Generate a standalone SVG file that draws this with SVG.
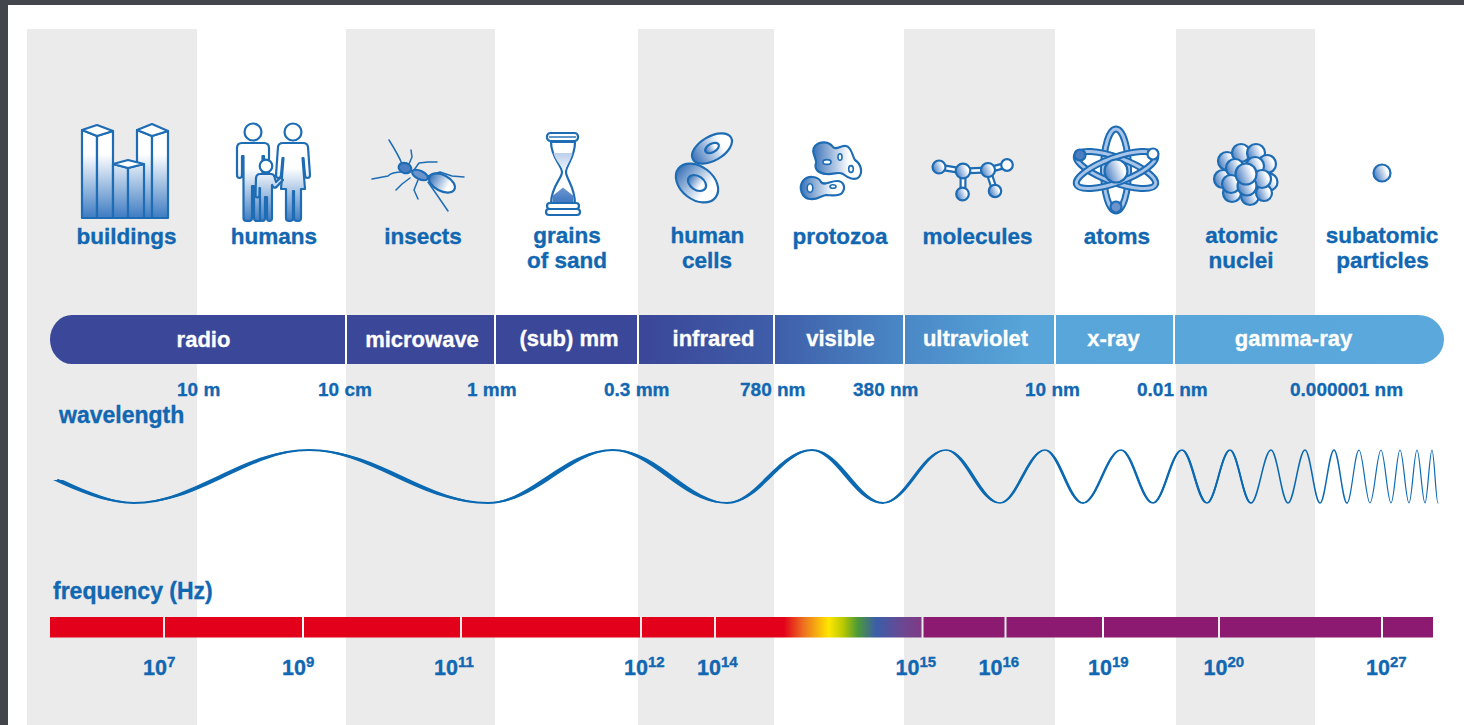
<svg xmlns="http://www.w3.org/2000/svg" width="1464" height="725" viewBox="0 0 1464 725">
  <defs>
    <style>
      .col{fill:#ebebeb}
      .lbl{font-family:"Liberation Sans",Arial,sans-serif;font-weight:bold;fill:#1167b1;stroke:#1167b1;stroke-width:0.35;font-size:22.5px;text-anchor:middle}
      .band{font-family:"Liberation Sans",Arial,sans-serif;font-weight:bold;fill:#fff;stroke:#fff;stroke-width:0.3;font-size:22px;text-anchor:middle}
      .wl{font-family:"Liberation Sans",Arial,sans-serif;font-weight:bold;fill:#1167b1;stroke:#1167b1;stroke-width:0.3;font-size:19px}
      .fq{font-family:"Liberation Sans",Arial,sans-serif;font-weight:bold;fill:#1167b1;stroke:#1167b1;stroke-width:0.35;font-size:21.5px}
      .ttl{font-family:"Liberation Sans",Arial,sans-serif;font-weight:bold;fill:#1167b1;stroke:#1167b1;stroke-width:0.35;font-size:23px}
      .ic{stroke:#1e6cb4;stroke-width:2.2;stroke-linejoin:round}
      .thin{fill:none;stroke:#1e6cb4;stroke-width:1.5;stroke-linecap:round;stroke-linejoin:round}
      .sep{stroke:#fff;stroke-width:2}
      .wave{fill:none;stroke:#0b69b2;stroke-linecap:round;stroke-linejoin:round}
      .nib{fill:#0b69b2}
      .red{fill:#e2001a}
      .pur{fill:#8b1a70}
      .bond{stroke:#1e6cb4;stroke-width:7;stroke-linecap:round}
      .bondIn{stroke:#fff;stroke-width:2.6;stroke-linecap:round}
    </style>
    <linearGradient id="bandGrad" gradientUnits="userSpaceOnUse" x1="50" y1="0" x2="1444" y2="0">
      <stop offset="0" stop-color="#3b4899"/>
      <stop offset="0.43" stop-color="#3b4899"/>
      <stop offset="0.52" stop-color="#3f5ea9"/>
      <stop offset="0.613" stop-color="#4a88c6"/>
      <stop offset="0.70" stop-color="#57a5d9"/>
      <stop offset="1" stop-color="#5aa8dc"/>
    </linearGradient>
    <linearGradient id="rainbow" gradientUnits="userSpaceOnUse" x1="716" y1="0" x2="921" y2="0">
      <stop offset="0" stop-color="#e2001a"/>
      <stop offset="0.33" stop-color="#e2001a"/>
      <stop offset="0.43" stop-color="#ee7420"/>
      <stop offset="0.55" stop-color="#ffe600"/>
      <stop offset="0.62" stop-color="#b9c900"/>
      <stop offset="0.69" stop-color="#4d9a36"/>
      <stop offset="0.78" stop-color="#3b5ea8"/>
      <stop offset="0.92" stop-color="#6f4590"/>
      <stop offset="1" stop-color="#7e3a84"/>
    </linearGradient>
    <linearGradient id="gBuild" gradientUnits="userSpaceOnUse" x1="0" y1="138" x2="0" y2="218">
      <stop offset="0" stop-color="#fff"/>
      <stop offset="0.2" stop-color="#fff"/>
      <stop offset="1" stop-color="#3d7bc2"/>
    </linearGradient>
    <linearGradient id="gHum" gradientUnits="userSpaceOnUse" x1="0" y1="150" x2="0" y2="222">
      <stop offset="0" stop-color="#fff"/>
      <stop offset="0.25" stop-color="#fff"/>
      <stop offset="1" stop-color="#3d7bc2"/>
    </linearGradient>
    <linearGradient id="gSide" x1="0" y1="0" x2="1" y2="0">
      <stop offset="0" stop-color="#3a72b9"/>
      <stop offset="0.75" stop-color="#fff"/>
    </linearGradient>
    <linearGradient id="gBall" x1="0" y1="0.7" x2="1" y2="0.3">
      <stop offset="0" stop-color="#4179c0"/>
      <stop offset="0.8" stop-color="#fff"/>
    </linearGradient>
    <linearGradient id="gSand" x1="0" y1="0" x2="0" y2="1">
      <stop offset="0" stop-color="#bccfeb"/>
      <stop offset="1" stop-color="#eef3fb"/>
    </linearGradient>
    <linearGradient id="gPile" x1="0" y1="0" x2="0" y2="1">
      <stop offset="0" stop-color="#6e97d0"/>
      <stop offset="1" stop-color="#3d76bf"/>
    </linearGradient>
  </defs>

  <!-- frame -->
  <rect x="0" y="0" width="1464" height="725" fill="#42454c"/>
  <rect x="8" y="5" width="1456" height="720" fill="#fff"/>

  <!-- alternating column shading -->
  <g id="columns">
    <rect class="col" x="27" y="29" width="170" height="696"/>
    <rect class="col" x="346" y="29" width="149" height="696"/>
    <rect class="col" x="638" y="29" width="136" height="696"/>
    <rect class="col" x="904" y="29" width="151" height="696"/>
    <rect class="col" x="1176" y="29" width="139" height="696"/>
  </g>

  <!-- size scale: icons and labels -->
  <g id="node-buildings">
    <g class="ic">
      <polygon points="82,130 97,136 97,218 82,218" fill="url(#gBuild)"/>
      <polygon points="97,136 113,131 113,218 97,218" fill="url(#gBuild)"/>
      <polygon points="82,130 97,125 113,131 97,136" fill="#fff"/>
      <polygon points="137,130 152,136 152,218 137,218" fill="url(#gBuild)"/>
      <polygon points="152,136 168,131 168,218 152,218" fill="url(#gBuild)"/>
      <polygon points="137,130 152,124 168,131 152,136" fill="#fff"/>
      <polygon points="113,164 128,168 128,218 113,218" fill="url(#gBuild)"/>
      <polygon points="128,168 144,164 144,218 128,218" fill="url(#gBuild)"/>
      <polygon points="113,164 128,160 144,164 128,168" fill="#fff"/>
    </g>
    <text class="lbl" x="126.5" y="244">buildings</text>
  </g>

  <g id="node-humans">
    <g class="ic" fill="url(#gHum)">
      <circle cx="253" cy="132" r="8.5" fill="#fff"/>
      <path d="M242,143 L264,143 Q269,143 269,148 L269,175 Q269,178 266.5,178 Q264,178 264,175 L264,156 L262.5,156 L262.5,218 Q262.5,221 259.5,221 L257,221 Q254,221 254,218 L254,186 L252,186 L252,218 Q252,221 249,221 L246.5,221 Q243.5,221 243.5,218 L243.5,156 L242,156 L242,175 Q242,178 239.5,178 Q237,178 237,175 L237,148 Q237,143 242,143 Z"/>
      <circle cx="293" cy="132" r="8.5" fill="#fff"/>
      <path d="M283,143 L303,143 Q307.5,143 308,147 L310,175 Q310,178 307.5,178 Q305,178 305,175 L303.5,158 L302.5,158 L305,189 L301,189 L301,218 Q301,221 298,221 L297,221 Q294,221 294,218 L294,191 L293,191 L293,218 Q293,221 290,221 L289,221 Q286,221 286,218 L286,189 L281,189 L283.5,158 L282.5,158 L281,175 Q281,178 278.5,178 Q276,178 276,175 L278,147 Q278.5,143 283,143 Z"/>
      <circle cx="266" cy="166" r="6.3" fill="#fff"/>
      <path d="M260,174 L271,174 Q274,174 274.5,177 L276,182 L280.5,177.5 L283,180 L276.5,187 Q273.5,189 272,185 L272,218 Q272,221 269.5,221 Q267,221 267,218 L267,197 L265,197 L265,218 Q265,221 262.5,221 Q260,221 260,218 L260,188 L259.5,188 L259.5,195 Q259.5,197.5 257.5,197.5 Q255.5,197.5 255.5,195 L256,178 Q256.5,174 260,174 Z"/>
    </g>
    <text class="lbl" x="274" y="244">humans</text>
  </g>

  <g id="node-insects">
    <g class="thin">
      <path d="M402,164 C399,156 394,148 389,140"/>
      <path d="M409,164 L412,157 L411,150"/>
      <path d="M402,172 Q392,172 388,176 L372,179"/>
      <path d="M414,170 L419,163 L428,162 L437,162"/>
      <path d="M428,176 L440,172 L452,176 L464,177"/>
      <path d="M410,178 L402,184 L396,190"/>
      <path d="M418,180 L414,190 L418,199"/>
      <path d="M428,182 L437,195 L448,211"/>
    </g>
    <g class="ic" stroke-width="1.6">
      <ellipse cx="442" cy="183" rx="14" ry="8" transform="rotate(28 442 183)" fill="url(#gSide)"/>
      <ellipse cx="420" cy="175" rx="8.5" ry="4.2" transform="rotate(25 420 175)" fill="#6b93cc"/>
      <ellipse cx="405" cy="168" rx="6.5" ry="5" transform="rotate(20 405 168)" fill="#4a7dc2"/>
    </g>
    <text class="lbl" x="423" y="244">insects</text>
  </g>

  <g id="node-sand">
    <g class="ic">
      <path d="M551,142 C551,158 562,165 562,172 C562,179 551,186 551,204 L575,204 C575,186 566,179 566,172 C566,165 575,158 575,142 Z" fill="#fff"/>
      <path d="M553.5,153 L572.5,153 C571,160 566,166 565,171 L563,171 C562,166 555,160 553.5,153 Z" fill="url(#gSand)" stroke="none"/>
      <path d="M552.5,203 L552.5,196 L563,187.5 L573.5,196 L573.5,203 Z" fill="url(#gPile)" stroke="none"/>
      <rect x="547" y="133" width="31" height="8" rx="3.5" fill="#fff"/>
      <line x1="549" y1="137" x2="576" y2="137" stroke-width="1.4"/>
      <rect x="547" y="203" width="32" height="6" rx="3" fill="#fff"/>
      <rect x="546" y="209" width="34" height="6" rx="3" fill="#fff"/>
    </g>
    <text class="lbl" x="567" y="243">grains</text>
    <text class="lbl" x="567" y="268">of sand</text>
  </g>

  <g id="node-cells">
    <g class="ic">
      <ellipse cx="712" cy="148.5" rx="22" ry="12" transform="rotate(-30 712 148.5)" fill="url(#gSide)"/>
      <ellipse cx="712" cy="148" rx="7.5" ry="4.3" transform="rotate(-28 712 148)" fill="url(#gSide)"/>
      <ellipse cx="697" cy="183" rx="23.5" ry="16.5" transform="rotate(38 697 183)" fill="url(#gSide)"/>
      <ellipse cx="697" cy="183" rx="10" ry="6.8" transform="rotate(35 697 183)" fill="url(#gSide)"/>
    </g>
    <text class="lbl" x="707.5" y="243">human</text>
    <text class="lbl" x="707" y="268">cells</text>
  </g>

  <g id="node-protozoa">
    <g class="ic">
      <path d="M815,146 C820,141 829,141 833,147 C837,151 840,145 846,146 C852,147 852,156 855,160 C861,164 863,172 859,177 C855,181 848,178 843,174 C838,171 834,175 826,174 C818,173 814,169 816,163 C817,158 810,152 815,146 Z" fill="url(#gSide)"/>
      <ellipse cx="827" cy="162" rx="4" ry="2.4" fill="#fff" stroke-width="1.6"/>
      <ellipse cx="840" cy="157" rx="2" ry="3.3" fill="#fff" stroke-width="1.6"/>
      <ellipse cx="851" cy="169" rx="2.3" ry="3.4" fill="#fff" stroke-width="1.6"/>
      <path d="M803,181 C808,175 818,176 821,182 C824,186 830,181 837,181 C844,181 846,188 842,193 C838,197 831,195 826,195 C820,196 818,200 810,199 C802,198 798,188 803,181 Z" fill="url(#gSide)"/>
      <ellipse cx="810" cy="188" rx="2.8" ry="4.3" fill="#fff" stroke-width="1.6"/>
      <ellipse cx="833" cy="186.5" rx="3" ry="1.8" fill="#fff" stroke-width="1.6"/>
    </g>
    <text class="lbl" x="840" y="244">protozoa</text>
  </g>

  <g id="node-molecules">
    <line class="bond" x1="939" y1="167" x2="963" y2="171"/>
    <line class="bond" x1="963" y1="171" x2="963" y2="194"/>
    <line class="bond" x1="963" y1="171" x2="988" y2="170"/>
    <line class="bond" x1="988" y1="170" x2="1007" y2="165"/>
    <line class="bond" x1="988" y1="170" x2="995" y2="191"/>
    <line class="bondIn" x1="939" y1="167" x2="963" y2="171"/>
    <line class="bondIn" x1="963" y1="171" x2="963" y2="194"/>
    <line class="bondIn" x1="963" y1="171" x2="988" y2="170"/>
    <line class="bondIn" x1="988" y1="170" x2="1007" y2="165"/>
    <line class="bondIn" x1="988" y1="170" x2="995" y2="191"/>
    <g class="ic" fill="url(#gBall)">
      <circle cx="939" cy="167" r="6.5"/>
      <circle cx="963" cy="171" r="7.3"/>
      <circle cx="962.5" cy="194" r="6.3"/>
      <circle cx="988" cy="170" r="7"/>
      <circle cx="1007" cy="165" r="5.8" fill="#fff"/>
      <circle cx="995" cy="191" r="6.2"/>
    </g>
    <text class="lbl" x="977.5" y="244">molecules</text>
  </g>

  <g id="node-atoms">
    <g fill="none">
      <ellipse cx="1116" cy="170" rx="12.5" ry="41" stroke="#1e6cb4" stroke-width="7"/>
      <ellipse cx="1116" cy="170" rx="12.5" ry="41" stroke="#a8c4e8" stroke-width="3"/>
      <ellipse cx="1116" cy="170" rx="42" ry="12.5" transform="rotate(20 1116 170)" stroke="#1e6cb4" stroke-width="7"/>
      <ellipse cx="1116" cy="170" rx="42" ry="12.5" transform="rotate(20 1116 170)" stroke="#a8c4e8" stroke-width="3"/>
      <ellipse cx="1116" cy="170" rx="42" ry="12.5" transform="rotate(-20 1116 170)" stroke="#1e6cb4" stroke-width="7"/>
      <ellipse cx="1116" cy="170" rx="42" ry="12.5" transform="rotate(-20 1116 170)" stroke="#a8c4e8" stroke-width="3"/>
    </g>
    <g class="ic" stroke-width="2">
      <circle cx="1116" cy="171" r="11.5" fill="url(#gBall)"/>
      <circle cx="1080" cy="155" r="5.5" fill="#4a7dc2"/>
      <circle cx="1153" cy="154" r="5.5" fill="#fff"/>
      <circle cx="1116" cy="207" r="5.5" fill="#6b93cc"/>
    </g>
    <text class="lbl" x="1117" y="244">atoms</text>
  </g>

  <g id="node-nuclei">
    <g class="ic" stroke-width="2" fill="url(#gBall)">
      <circle cx="1227" cy="161" r="9"/>
      <circle cx="1241" cy="153" r="9"/>
      <circle cx="1256" cy="153" r="9"/>
      <circle cx="1267" cy="164" r="9"/>
      <circle cx="1269" cy="182" r="8.5"/>
      <circle cx="1223" cy="179" r="9"/>
      <circle cx="1232" cy="193" r="9"/>
      <circle cx="1250" cy="196" r="9"/>
      <circle cx="1264" cy="193" r="8"/>
      <circle cx="1235" cy="168" r="9"/>
      <circle cx="1255" cy="166" r="9"/>
      <circle cx="1262" cy="179" r="9"/>
      <circle cx="1231" cy="184" r="9"/>
      <circle cx="1247" cy="186" r="9.5"/>
      <circle cx="1246" cy="174" r="10.5"/>
    </g>
    <text class="lbl" x="1241.5" y="243">atomic</text>
    <text class="lbl" x="1241" y="268">nuclei</text>
  </g>

  <g id="node-subatomic">
    <circle class="ic" cx="1382" cy="173" r="8.5" fill="url(#gBall)" stroke-width="2"/>
    <text class="lbl" x="1382" y="243">subatomic</text>
    <text class="lbl" x="1382.5" y="268">particles</text>
  </g>

  <!-- spectrum band bar -->
  <g id="bands">
    <path d="M72,315 H1418 A26,24.5 0 0 1 1418,364 H72 A22,24.5 0 0 1 72,315 Z" fill="url(#bandGrad)"/>
    <line class="sep" x1="346" y1="315" x2="346" y2="364"/>
    <line class="sep" x1="495" y1="315" x2="495" y2="364"/>
    <line class="sep" x1="638" y1="315" x2="638" y2="364"/>
    <line class="sep" x1="774" y1="315" x2="774" y2="364"/>
    <line class="sep" x1="904" y1="315" x2="904" y2="364"/>
    <line class="sep" x1="1055" y1="315" x2="1055" y2="364"/>
    <line class="sep" x1="1174" y1="315" x2="1174" y2="364"/>
    <text class="band" x="203.5" y="347">radio</text>
    <text class="band" x="422" y="347">microwave</text>
    <text class="band" x="569" y="346">(sub) mm</text>
    <text class="band" x="713.5" y="346">infrared</text>
    <text class="band" x="840.5" y="346">visible</text>
    <text class="band" x="975.5" y="346">ultraviolet</text>
    <text class="band" x="1113.5" y="346">x-ray</text>
    <text class="band" x="1293.5" y="346">gamma-ray</text>
  </g>

  <!-- wavelength scale -->
  <g id="wavelength">
    <text class="wl" x="177" y="396">10 m</text>
    <text class="wl" x="318" y="396">10 cm</text>
    <text class="wl" x="467" y="396">1 mm</text>
    <text class="wl" x="604" y="396">0.3 mm</text>
    <text class="wl" x="740" y="396">780 nm</text>
    <text class="wl" x="853" y="396">380 nm</text>
    <text class="wl" x="1025" y="396">10 nm</text>
    <text class="wl" x="1137" y="396">0.01 nm</text>
    <text class="wl" x="1290" y="396">0.000001 nm</text>
    <text class="ttl" x="59" y="423">wavelength</text>
  </g>

  <!-- chirped wave: thin spine plus horizontal-nib swell on each slope -->
  <g id="wave">
    <path class="wave" stroke-width="2" stroke-linecap="butt" d="M58,480 C84,492 110,503 134,503 C197.7,503 245.3,450 309,450 C374.2,450 422.8,503 488,503"/>
    <path class="wave" stroke-width="1.9" d="M488,503 C533.5,503 567.5,450 613,450 C654.5,450 685.5,503 727,503 C757.9,503 781.1,450 812,450 C837.8,450 857.2,503 883,503"/>
    <path class="wave" stroke-width="1.7" d="M883,503 C905.9,503 923.1,450 946,450 C965.7,450 980.3,503 1000,503 C1016.4,503 1028.6,450 1045,450 C1058.8,450 1069.2,503 1083,503"/>
    <path class="wave" stroke-width="1.6" d="M1083,503 C1096.8,503 1107.2,450 1121,450 C1132.6,450 1141.4,503 1153,503 C1163.6,503 1171.4,450 1182,450 C1191.1,450 1197.9,503 1207,503 C1215.4,503 1221.6,450 1230,450 C1237.6,450 1243.4,503 1251,503"/>
    <path class="wave" stroke-width="1.5" d="M1251,503 C1258.3,503 1263.7,450 1271,450 C1277.2,450 1281.8,503 1288,503 C1294.2,503 1298.8,450 1305,450 C1310.5,450 1314.5,503 1320,503 C1325.1,503 1328.9,450 1334,450 C1338.7,450 1342.3,503 1347,503"/>
    <path class="wave" stroke-width="1.2" d="M1347,503 C1351.4,503 1354.6,450 1359,450 C1363,450 1366,503 1370,503 C1374,503 1377,450 1381,450 C1384.6,450 1387.4,503 1391,503 C1394.3,503 1396.7,450 1400,450 C1403.3,450 1405.7,503 1409,503 C1411.9,503 1414.1,450 1417,450 C1419.9,450 1422.1,503 1425,503 C1427.5,503 1429.5,450 1432,450 C1434.2,450 1435.8,503 1438,503"/>
    <path class="nib" d="M53,480 C79,492 105,503 129,503 L139,503 C115,503 89,492 63,480 Z
      M129,503 C192.7,503 240.3,450 304,450 L314,450 C250.3,450 202.7,503 139,503 Z
      M304,450 C369.2,450 417.8,503 483,503 L493,503 C427.8,503 379.2,450 314,450 Z
      M484,503 C529.5,503 563.5,450 609,450 L617,450 C571.5,450 537.5,503 492,503 Z
      M609,450 C650.5,450 681.5,503 723,503 L731,503 C689.5,503 658.5,450 617,450 Z
      M724.2,503 C755.1,503 778.3,450 809.2,450 L814.8,450 C783.9,450 760.7,503 729.8,503 Z
      M809.2,450 C835,450 854.4,503 880.2,503 L885.8,503 C860,503 840.6,450 814.8,450 Z
      M881,503 C903.9,503 921.1,450 944,450 L948,450 C925.1,450 907.9,503 885,503 Z
      M944,450 C963.7,450 978.3,503 998,503 L1002,503 C982.3,503 967.7,450 948,450 Z
      M998.5,503 C1014.9,503 1027.1,450 1043.5,450 L1046.5,450 C1030.1,450 1017.9,503 1001.5,503 Z
      M1043.5,450 C1057.3,450 1067.7,503 1081.5,503 L1084.5,503 C1070.7,503 1060.3,450 1046.5,450 Z
      M1081.7,503 C1095.5,503 1105.9,450 1119.7,450 L1122.3,450 C1108.5,450 1098.1,503 1084.3,503 Z
      M1119.7,450 C1131.3,450 1140.1,503 1151.7,503 L1154.3,503 C1142.7,503 1133.9,450 1122.3,450 Z
      M1151.8,503 C1162.4,503 1170.2,450 1180.8,450 L1183.2,450 C1172.6,450 1164.8,503 1154.2,503 Z
      M1180.8,450 C1189.9,450 1196.7,503 1205.8,503 L1208.2,503 C1199.1,503 1192.3,450 1183.2,450 Z
      M1206,503 C1214.4,503 1220.6,450 1229,450 L1231,450 C1222.6,450 1216.4,503 1208,503 Z
      M1229,450 C1236.6,450 1242.4,503 1250,503 L1252,503 C1244.4,503 1238.6,450 1231,450 Z"/>
  </g>

  <!-- frequency scale -->
  <g id="frequency">
    <text class="ttl" x="53" y="599">frequency (Hz)</text>
    <rect class="red" x="50" y="617" width="113" height="20.5"/>
    <rect class="red" x="165" y="617" width="137" height="20.5"/>
    <rect class="red" x="304" y="617" width="156" height="20.5"/>
    <rect class="red" x="462" y="617" width="178" height="20.5"/>
    <rect class="red" x="642" y="617" width="72" height="20.5"/>
    <rect x="716" y="617" width="205.5" height="20.5" fill="url(#rainbow)"/>
    <rect class="pur" x="923.5" y="617" width="81" height="20.5"/>
    <rect class="pur" x="1006.5" y="617" width="95.5" height="20.5"/>
    <rect class="pur" x="1104" y="617" width="114" height="20.5"/>
    <rect class="pur" x="1220" y="617" width="161" height="20.5"/>
    <rect class="pur" x="1383" y="617" width="50" height="20.5"/>
    <text class="fq" x="143" y="675">10<tspan dy="-8" font-size="15">7</tspan></text>
    <text class="fq" x="282" y="675">10<tspan dy="-8" font-size="15">9</tspan></text>
    <text class="fq" x="434" y="675">10<tspan dy="-8" font-size="15">11</tspan></text>
    <text class="fq" x="624" y="675">10<tspan dy="-8" font-size="15">12</tspan></text>
    <text class="fq" x="697" y="675">10<tspan dy="-8" font-size="15">14</tspan></text>
    <text class="fq" x="895.5" y="675">10<tspan dy="-8" font-size="15">15</tspan></text>
    <text class="fq" x="978.5" y="675">10<tspan dy="-8" font-size="15">16</tspan></text>
    <text class="fq" x="1088" y="675">10<tspan dy="-8" font-size="15">19</tspan></text>
    <text class="fq" x="1203.5" y="675">10<tspan dy="-8" font-size="15">20</tspan></text>
    <text class="fq" x="1366" y="675">10<tspan dy="-8" font-size="15">27</tspan></text>
  </g>
</svg>
